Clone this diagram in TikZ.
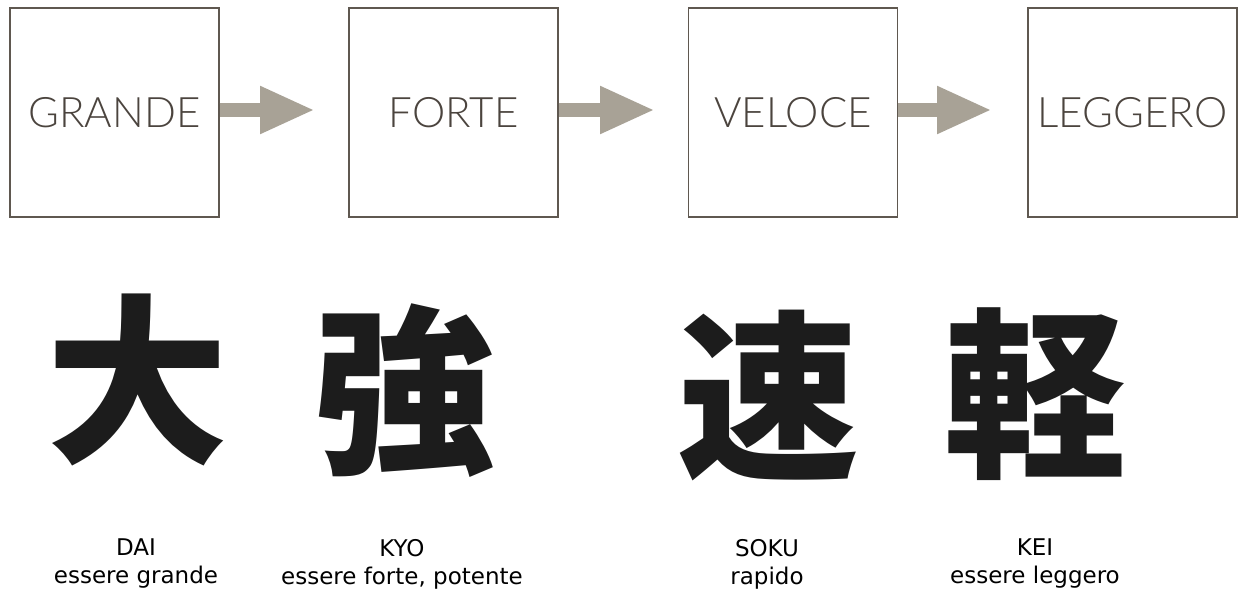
\documentclass[tikz,border=0pt]{standalone}
\usepackage{fontspec}
\setmainfont{Lato}
\newfontfamily\boxfont{Lato Light}
\newfontfamily\cjk{Noto Sans CJK JP}
\newfontfamily\lblfont{DejaVu Sans}
\usetikzlibrary{arrows.meta}
\definecolor{boxline}{RGB}{95,88,80}
\definecolor{boxtext}{RGB}{75,68,62}
\definecolor{arrowc}{RGB}{168,162,150}
\definecolor{ink}{RGB}{28,28,28}
\begin{document}
\begin{tikzpicture}[x=1pt,y=-1pt,
  box/.style={draw=boxline,line width=1.3pt,minimum width=209pt,minimum height=209pt,inner sep=0pt,text=boxtext,font=\boxfont\fontsize{42}{50}\selectfont},
  flow/.style={draw=arrowc,line width=14pt,-{Triangle[length=55pt,width=44pt]}},
  kanji/.style={inner sep=0pt,text=ink,font=\cjk\bfseries\fontsize{182}{182}\selectfont},
  lbl/.style={align=center,inner sep=0pt,font=\lblfont\fontsize{23}{28}\selectfont}]
\useasboundingbox (0,0) rectangle (1239,594);
\node[box] (b1) at (114.5,112.5) {GRANDE};
\node[box] (b2) at (453.5,112.5) {FORTE};
\node[box] (b3) at (793,112.5) {VELOCE};
\node[box] (b4) at (1132.5,112.5) {LEGGERO};
\coordinate (t1) at (315,110);
\coordinate (t2) at (655,110);
\coordinate (t3) at (992,110);
\draw[flow] (b1.east |- t1) -- (t1);
\draw[flow] (b2.east |- t2) -- (t2);
\draw[flow] (b3.east |- t3) -- (t3);
\node[kanji] (k1) at (137,380) {大};
\node[kanji] (k2) at (404,391) {強};
\node[kanji] (k3) at (768,396) {速};
\node[kanji] (k4) at (1035,394) {軽};
\node[lbl] (l1) at (136,564) {DAI\\essere grande};
\node[lbl] (l2) at (402,564) {KYO\\essere forte, potente};
\node[lbl] (l3) at (767,564) {SOKU\\rapido};
\node[lbl] (l4) at (1035,564) {KEI\\essere leggero};
\end{tikzpicture}
\end{document}
